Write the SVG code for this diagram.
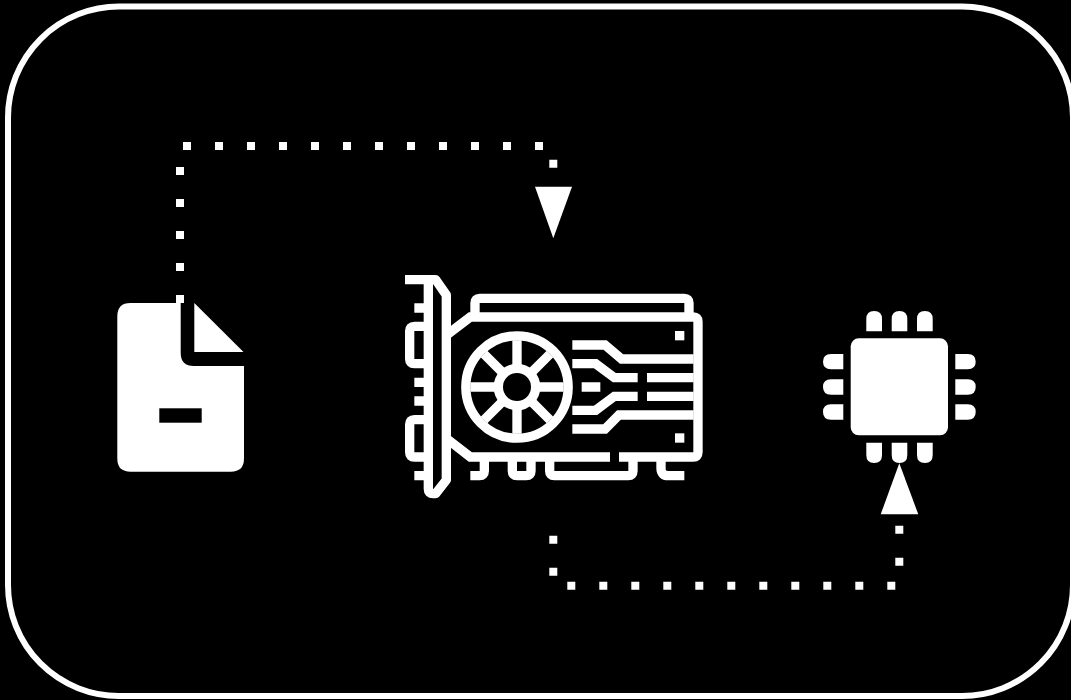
<svg xmlns="http://www.w3.org/2000/svg" width="1071" height="700" viewBox="0 0 1071 700">
<style>
.w{fill:#fff}
.flow{fill:none;stroke:#fff;stroke-width:8;stroke-dasharray:8 24}
.g{fill:none;stroke:#fff;stroke-width:28;stroke-linejoin:miter}
.r{stroke-linejoin:round}
</style>
<rect width="1071" height="700" fill="#000"/>
<rect id="frame" x="8" y="6.500" width="1065" height="689.500" rx="111" ry="111" fill="#000" stroke="#fff" stroke-width="6"/>
<g id="file">
<path class="w" d="M130.500 303H180.700V353Q180.700 366 194 366H244V458.500Q244 471.700 230.800 471.700H130.500Q117.300 471.700 117.300 458.500V316.200Q117.300 303 130.500 303Z"/>
<path class="w" d="M194.300 303L243.500 352H194.300Z"/>
<rect x="159.300" y="408.300" width="42.400" height="14.400" fill="#000"/>
</g>
<g id="gpu" transform="translate(395 265) scale(.33333)">
<path class="g r" d="M30 44H122L154 90V645L122 686H114Q100 686 100 672V44"/>
<path class="g" d="M58 129H100M58 352H100M58 408H100M58 632H100"/>
<path class="g r" d="M100 184H58Q44 184 44 198V282Q44 296 58 296H100M100 464H58Q44 464 44 478V562Q44 576 58 576H100"/>
<path class="g" d="M154 211L226 156H895Q909 156 909 170V562Q909 576 895 576H672M154 520L226 576H645"/>
<path class="g" d="M240 156V114Q240 100 254 100H868Q882 100 882 114V156"/>
<rect class="w" x="840" y="198" width="28" height="28"/>
<rect class="w" x="840" y="505" width="28" height="28"/>
<circle class="g" cx="366" cy="366" r="153.500"/>
<circle class="g" cx="366" cy="366" r="56"/>
<path class="g" d="M226 366H310M422 366H506M366 226V310M366 422V506M267 267L326 326M406 406L465 465M465 267L406 326M326 406L267 465"/>
<path class="g" d="M532 240H630L680 282H896M532 296H602L658 338H728M756 338H896M560 366H616M532 436H602L658 394H728M756 394H896M532 492H630L672 450H896"/>
<path class="g" d="M226 632H254Q268 632 268 618V576M352 576V618Q352 632 366 632H394Q408 632 408 618V576M464 576V618Q464 632 478 632H700Q714 632 714 618V576M798 576V610Q798 632 820 632H868"/>
</g>
<g id="chip">
<rect class="w" x="850.700" y="338.300" width="97.300" height="97" rx="8"/>
<path class="w" d="M866.300 331.300V319Q866.300 311 874.200 311Q882 311 882 319V331.300ZM891.700 331.300V319Q891.700 311 899.500 311Q907.300 311 907.300 319V331.300ZM917 331.300V319Q917 311 924.900 311Q932.700 311 932.700 319V331.300Z"/>
<path class="w" d="M866.300 442.700V455Q866.300 463 874.200 463Q882 463 882 455V442.700ZM891.700 442.700V455Q891.700 463 899.500 463Q907.300 463 907.300 455V442.700ZM917 442.700V455Q917 463 924.900 463Q932.700 463 932.700 455V442.700Z"/>
<path class="w" d="M843.300 354H831Q823 354 823 361.700Q823 369.300 831 369.300H843.300ZM843.300 379.300H831Q823 379.300 823 387Q823 394.700 831 394.700H843.300ZM843.300 404.300H831Q823 404.300 823 412Q823 419.700 831 419.700H843.300Z"/>
<path class="w" d="M955.300 354H967.700Q975.700 354 975.700 361.700Q975.700 369.300 967.700 369.300H955.300ZM955.300 379.300H967.700Q975.700 379.300 975.700 387Q975.700 394.700 967.700 394.700H955.300ZM955.300 404.300H967.700Q975.700 404.300 975.700 412Q975.700 419.700 967.700 419.700H955.300Z"/>
</g>
<g id="connectors">
<path class="flow" d="M180 303V146H553.300V190"/>
<polygon class="w" points="535,186.700 572,186.700 553.300,238.300"/>
<path class="flow" d="M553.300 535.700V585.700H899.300V510"/>
<polygon class="w" points="880.700,514.300 918.300,514.300 899.300,463.300"/>
</g>
</svg>
